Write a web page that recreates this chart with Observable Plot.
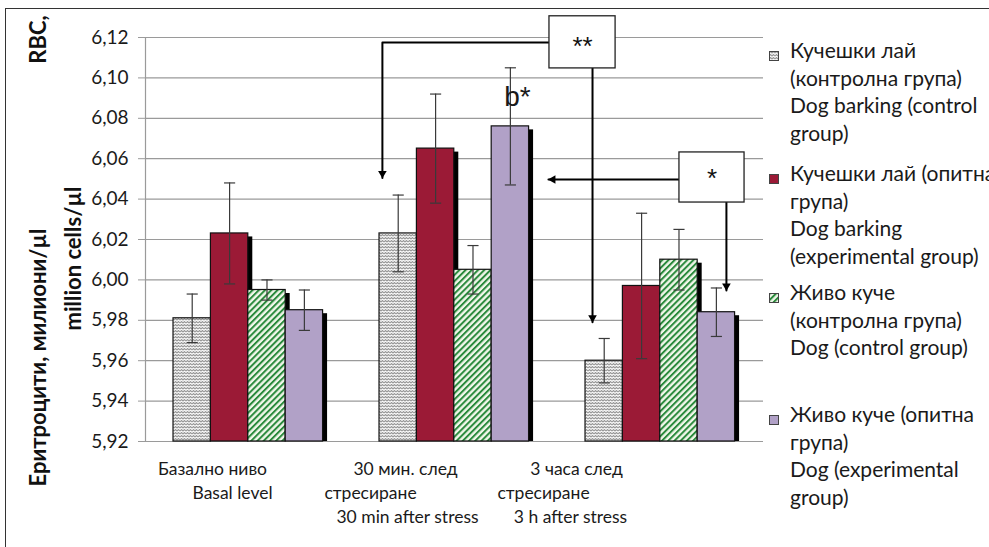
<!DOCTYPE html>
<html>
<head>
<meta charset="utf-8">
<script src="https://cdn.jsdelivr.net/npm/d3@7"></script>
<script src="https://cdn.jsdelivr.net/npm/@observablehq/plot@0.6"></script>
<style>
  html, body { margin: 0; padding: 0; background: #fff; overflow: hidden; }
  #wrap { position: relative; width: 989px; height: 547px; overflow: hidden; font-family: Lato, "Noto Sans", sans-serif; }
  #border { position: absolute; left: 5px; top: 8px; width: 3000px; height: 3000px; border-left: 1.5px solid #333; border-top: 1.5px solid #333; pointer-events: none; }
  #chart { position: absolute; left: 0; top: 0; }
  .leg { position: absolute; left: 790px; font-size: 21px; line-height: 27.5px; color: #1a1a1a; white-space: nowrap; }
  .sw { position: absolute; left: 769px; width: 10px; height: 10px; }
</style>
</head>
<body>
<div id="wrap">
  <div id="chart"></div>
  <div id="legend"></div>
  <div id="border"></div>
</div>
<script>
// ---------- data ----------
const groupLines = [
  ["Базално ниво", "Basal level"],
  ["30 мин. след", "стресиране", "30 min after stress"],
  ["3 часа след", "стресиране", "3 h after stress"]
];
const seriesLines = [
  ["Кучешки лай", "(контролна група)", "Dog barking (control", "group)"],
  ["Кучешки лай (опитна", "група)", "Dog barking", "(experimental group)"],
  ["Живо куче", "(контролна група)", "Dog (control group)"],
  ["Живо куче (опитна", "група)", "Dog (experimental", "group)"]
];
const barkingControl    = [5.981, 6.023, 5.960];
const barkingControlErr = [0.012, 0.019, 0.011];
const barkingExp        = [6.023, 6.065, 5.997];
const barkingExpErr     = [0.025, 0.027, 0.036];
const dogControl        = [5.995, 6.005, 6.010];
const dogControlErr     = [0.005, 0.012, 0.015];
const dogExp            = [5.985, 6.076, 5.984];
const dogExpErr         = [0.010, 0.029, 0.012];
const yTicks = [5.92, 5.94, 5.96, 5.98, 6.00, 6.02, 6.04, 6.06, 6.08, 6.10, 6.12];
const yTitleLines = ["Еритроцити, милиони/µl", "million cells/µl", "RBC,"];

// annotations (data units: x = group index space 0..3, y = value)
const annBoxes = [
  {x1: 1.961, x2: 2.282, y1: 6.1047, y2: 6.1305, label: "**"},
  {x1: 2.592, x2: 2.908, y1: 6.0383, y2: 6.0631, label: "*"}
];
const annPaths = [
  [[1.961, 6.1175], [1.150, 6.1175], [1.150, 6.0505]],
  [[2.170, 6.1047], [2.170, 5.9790]],
  [[2.592, 6.0497], [1.956, 6.0497]],
  [[2.820, 6.0383], [2.820, 5.9948]]
];
const annHeadsDown = [[1.150, 6.0505], [2.170, 5.9790], [2.820, 5.9948]];
const annHeadsLeft = [[1.956, 6.0497]];
const annNote = {x: 1.806, y: 6.0905, label: "b*"};

// ---------- layout (not data) ----------
const yMin = 5.92, yMax = 6.12;
const pad = 0.136, bw = 0.1815;
const labelDx = [[-36, -16], [-49, -84, -47], [-84, -117, -90]];
const labelDy = [28, 52, 76];
const legendTops = [50, 173, 292, 414];
const patternIds = ["pZig", null, "pStripe", null];
const solidFill = [null, "#9b1a36", null, "#b1a1c7"];

const values = [barkingControl, barkingExp, dogControl, dogExp];
const errs = [barkingControlErr, barkingExpErr, dogControlErr, dogExpErr];
const rows = [];
values.forEach((vals, s) => vals.forEach((v, g) => {
  const x1 = g + pad + s * bw;
  rows.push({g, s, v, e: errs[s][g], x1, x2: x1 + bw, cx: x1 + bw / 2});
}));
const fillOf = s => solidFill[s] ?? `url(#${patternIds[s]})`;

const labelRows = [];
groupLines.forEach((lines, g) => lines.forEach((t, i) => labelRows.push({g: g + 0.5, t, dx: labelDx[g][i], dy: labelDy[i]})));

const marks = [
  Plot.gridY(yTicks, {stroke: "#9a9a9a", strokeOpacity: 1, strokeWidth: 1.2}),
  Plot.ruleX([0], {stroke: "#9a9a9a", strokeWidth: 1.2}),
  Plot.axisY(yTicks, {tickFormat: d => d.toFixed(2).replace(".", ","), tickSize: 7, tickPadding: 10, stroke: "#9a9a9a", label: null, fontSize: 19}),
];
// shadows
for (let s = 0; s < 4; s++) {
  marks.push(Plot.rect(rows.filter(r => r.s === s), {x1: "x1", x2: "x2", y1: () => yMin, y2: "v", fill: "#000", dx: 4.5, dy: 3.5, clip: true}));
}
// bars
for (let s = 0; s < 4; s++) {
  marks.push(Plot.rect(rows.filter(r => r.s === s), {x1: "x1", x2: "x2", y1: () => yMin, y2: "v", fill: fillOf(s), stroke: "#111", strokeWidth: 1.2}));
}
// error bars
marks.push(Plot.ruleX(rows, {x: "cx", y1: d => d.v - d.e, y2: d => d.v + d.e, stroke: "#3a3a3a", strokeWidth: 1.2}));
marks.push(Plot.link(rows, {x1: d => d.cx - 0.027, x2: d => d.cx + 0.027, y1: d => d.v + d.e, y2: d => d.v + d.e, stroke: "#3a3a3a", strokeWidth: 1.2}));
marks.push(Plot.link(rows, {x1: d => d.cx - 0.027, x2: d => d.cx + 0.027, y1: d => d.v - d.e, y2: d => d.v - d.e, stroke: "#3a3a3a", strokeWidth: 1.2}));
// annotation connectors
annPaths.forEach(p => marks.push(Plot.line(p, {x: d => d[0], y: d => d[1], stroke: "#000", strokeWidth: 2, curve: "linear"})));
marks.push(Plot.dot(annHeadsDown, {x: d => d[0], y: d => d[1], symbol: "triangle", r: 3.2, fill: "#000", rotate: 180, dy: -4.5}));
marks.push(Plot.dot(annHeadsLeft, {x: d => d[0], y: d => d[1], symbol: "triangle", r: 3.2, fill: "#000", rotate: -90, dx: 4.5}));
// boxes
marks.push(Plot.rect(annBoxes, {x1: "x1", x2: "x2", y1: "y1", y2: "y2", fill: "#fff", stroke: "#222", strokeWidth: 1.3}));
marks.push(Plot.text([annBoxes[0]], {x: d => (d.x1 + d.x2) / 2, y: d => (d.y1 + d.y2) / 2, text: "label", fontSize: 26, fontFamily: "Liberation Sans", fill: "#111", dy: 4, letterSpacing: 2}));
marks.push(Plot.text([annBoxes[1]], {x: d => (d.x1 + d.x2) / 2, y: d => (d.y1 + d.y2) / 2, text: "label", fontSize: 26, fontFamily: "Liberation Sans", fill: "#111", dy: 1}));
marks.push(Plot.text([annNote], {x: "x", y: "y", text: "label", fontSize: 28, fontFamily: "Liberation Sans", fill: "#1a1a1a"}));
// x category labels (one mark per line so each line gets its own offset)
labelRows.forEach(r => marks.push(Plot.text([r], {x: "g", text: "t", frameAnchor: "bottom", dx: r.dx, dy: r.dy, fontSize: 17.5, fill: "#1a1a1a", lineAnchor: "middle"})));
// y title
marks.push(Plot.text([yTitleLines[0]], {text: d => d, frameAnchor: "left", rotate: -90, dx: -107, dy: 118, fontSize: 22, fontWeight: "bold", fill: "#111", textAnchor: "middle"}));
marks.push(Plot.text([yTitleLines[1]], {text: d => d, frameAnchor: "left", rotate: -90, dx: -72, dy: 19, fontSize: 22, fontWeight: "bold", fill: "#111", textAnchor: "middle"}));
marks.push(Plot.text([yTitleLines[2]], {text: d => d, frameAnchor: "left", rotate: -90, dx: -107, dy: -200, fontSize: 22, fontWeight: "bold", fill: "#111", textAnchor: "middle"}));

const chart = Plot.plot({
  width: 989, height: 547,
  marginLeft: 145, marginRight: 226, marginTop: 37, marginBottom: 106,
  x: {domain: [0, 3], axis: null},
  y: {domain: [yMin, yMax]},
  style: {fontFamily: "Lato, 'Noto Sans', sans-serif", fontSize: "19px", color: "#1a1a1a", background: "transparent", overflow: "visible"},
  marks
});
document.getElementById("chart").appendChild(chart);

// patterns
const svg = d3.select(chart);
const defs = svg.insert("defs", ":first-child");
const zig = defs.append("pattern").attr("id", "pZig").attr("patternUnits", "userSpaceOnUse").attr("width", 6).attr("height", 6);
zig.append("rect").attr("width", 6).attr("height", 6).attr("fill", "#fff");
zig.append("path").attr("d", "M0,2 L1.5,0.5 L3,2 L4.5,0.5 L6,2 M0,5 L1.5,3.5 L3,5 L4.5,3.5 L6,5").attr("fill", "none").attr("stroke", "#999").attr("stroke-width", 1.2);
const str = defs.append("pattern").attr("id", "pStripe").attr("patternUnits", "userSpaceOnUse").attr("width", 4.4).attr("height", 4.4).attr("patternTransform", "rotate(45)");
str.append("rect").attr("width", 4.4).attr("height", 4.4).attr("fill", "#f1f7ea");
str.append("rect").attr("width", 2.0).attr("height", 4.4).attr("fill", "#2a8a3c");

// legend
const leg = document.getElementById("legend");
seriesLines.forEach((lines, s) => {
  const sw = document.createElement("div");
  sw.className = "sw";
  sw.style.top = (legendTops[s] - 5) + "px";
  sw.innerHTML = `<svg width="10" height="10"><rect x="0.5" y="0.5" width="9" height="9" fill="${fillOf(s)}" stroke="#444" stroke-width="1"/></svg>`;
  leg.appendChild(sw);
  const t = document.createElement("div");
  t.className = "leg";
  t.style.top = (legendTops[s] - 13.75) + "px";
  t.innerHTML = lines.join("<br>");
  leg.appendChild(t);
});
</script>
</body>
</html>
